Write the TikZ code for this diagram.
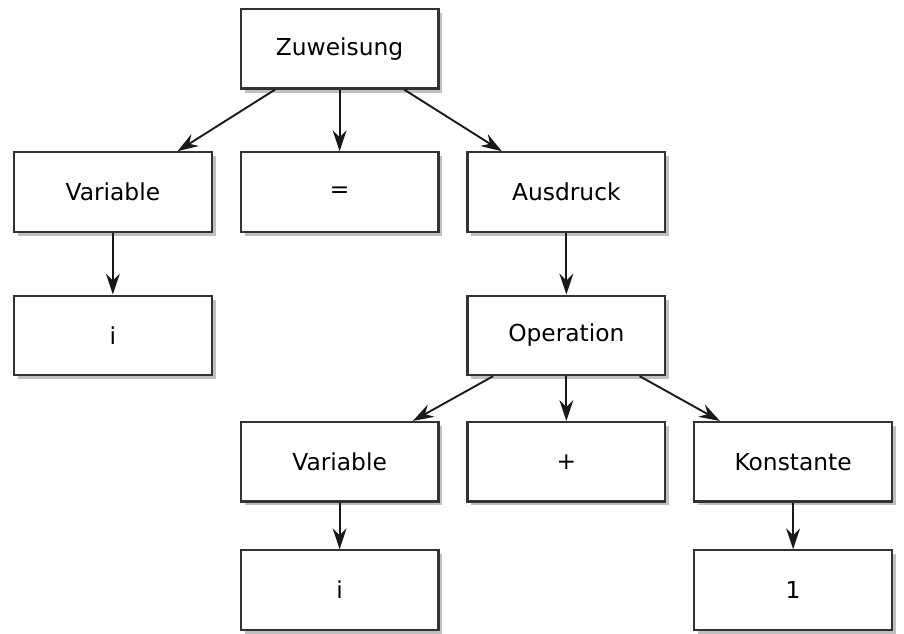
\documentclass[tikz,border=0pt]{standalone}
\usepackage{fontspec}
\setmainfont{DejaVu Sans}
\usepackage{tikz}
\usetikzlibrary{arrows.meta,positioning,shapes,shadows}
\usetikzlibrary{calc}

\begin{document}
\begin{tikzpicture}[
  every matrix/.style={ampersand replacement=\&,column sep=27pt,row sep=45pt,inner sep=0pt},
  box/.style={draw=black!80,line width=2.2pt,fill=white,minimum width=199pt,minimum height=80pt,
    inner sep=0pt,drop shadow={shadow xshift=4pt,shadow yshift=-4pt,fill=black!55,opacity=.45}},
  to/.style={-{Stealth[length=21pt,width=14pt,inset=7pt]},line width=1.9pt,black!90},
  every node/.style={align=center,font=\fontsize{23.5}{28}\selectfont}]

    \matrix {
        \& \node[box](zuw){Zuweisung}; \& \& \\[17pt]
        \node[box](var){Variable};
            \& \node[box](eq){=};
            \& \node[box](ausd){Ausdruck}; \& \\[17pt]
        \node[box](ivar){i};
            \& \& \node[box](op){Operation}; \& \\
        \& \node[box](var2){Variable};
            \& \node[box](plus){+};
            \& \node[box](kon){Konstante}; \\[2pt]
        \& \node[box](ivar2){i}; \& \& \node[box](one){1}; \\
    };

    \draw[to](zuw) -- (var);
    \draw[to](zuw) -- (eq);
    \draw[to](zuw) -- (ausd);
    \draw[to](var) -- (ivar);
    \draw[to](ausd) -- (op);
    \draw[to](op) -- (var2);
    \draw[to](op) -- (plus);
    \draw[to](op) -- (kon);
    \draw[to](var2) -- (ivar2);
    \draw[to](kon) -- (one);

    \useasboundingbox ($(var.west |- zuw.north)+(-13pt,8pt)$) rectangle ($(kon.east |- one.south)+(11pt,-3pt)$);
\end{tikzpicture}
\end{document}
